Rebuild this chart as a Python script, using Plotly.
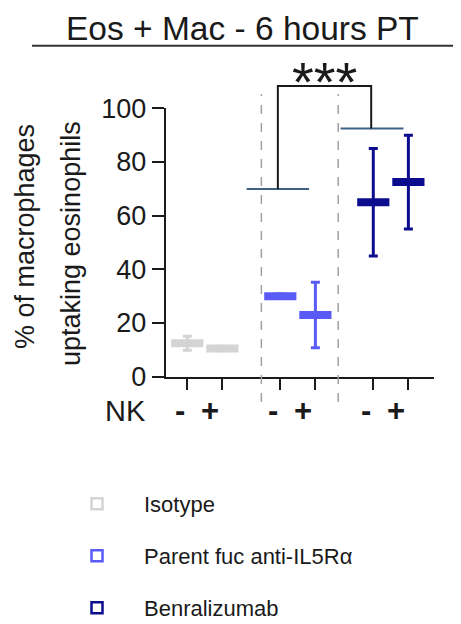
import plotly.graph_objects as go

# the page adds an 8px body margin; the figure is sized/positioned to compensate
OFF = 8
W, H = 461 - OFF, 624 - OFF

# ---- data ----
groups = ["Isotype", "Parent fuc anti-IL5Rα", "Benralizumab"]
colors = ["#d4d4d4", "#5a5af7", "#0c0c8e"]
nk_labels = ["-", "+"]
positions = [[0.0, 1.0], [2.65, 3.65], [5.3, 6.3]]
means = [[12.5, 10.5], [30.0, 23.0], [65.0, 72.5]]
errs = [[2.6, 0.8], [0.8, 12.2], [20.0, 17.5]]
yticks = [0, 20, 40, 60, 80, 100]
separators = [2.11, 4.30]
ref_lines = [(1.69, 3.47, 69.9), (4.37, 6.16, 92.5)]  # x0, x1, y
bracket = (2.58, 5.24)
sig_label = "***"

# ---- layout geometry (page pixels) ----
xl_px, xr_px = 165.7, 434.0
y0_px, y100_px = 376.7, 108.3
x_range = [-0.616, 7.03]
y_range = [0, 100]


def pxpaper(px):
    return (px - OFF) / W


def pypaper(py):
    return 1 - (py - OFF) / H


ydom = [pypaper(y0_px), pypaper(y100_px)]


def ypaper(v):
    return ydom[0] + (v - y_range[0]) / (y_range[1] - y_range[0]) * (ydom[1] - ydom[0])


fig = go.Figure()

for gi, g in enumerate(groups):
    fig.add_trace(go.Scatter(
        x=positions[gi], y=means[gi], mode="markers",
        marker=dict(symbol="line-ew", size=23, color=colors[gi],
                    line=dict(color=colors[gi], width=8)),
        error_y=dict(type="data", array=errs[gi], color=colors[gi],
                     thickness=3, width=4.5),
        showlegend=False, cliponaxis=False,
    ))
    leg = "legend" if gi == 0 else f"legend{gi + 1}"
    fig.add_trace(go.Scatter(
        x=[None], y=[None], mode="markers", name=g, legend=leg,
        marker=dict(symbol="square-open", size=11, color=colors[gi],
                    line=dict(color=colors[gi], width=2.5)),
    ))

shapes = []
for s in separators:
    shapes.append(dict(type="line", xref="x", yref="paper", x0=s, x1=s,
                       y0=pypaper(402), y1=pypaper(94),
                       line=dict(color="#a0a0a0", width=1.5, dash="dash")))
for x0, x1, yv in ref_lines:
    shapes.append(dict(type="line", xref="x", yref="y", x0=x0, x1=x1, y0=yv, y1=yv,
                       line=dict(color="#3b6185", width=2)))
top = pypaper(86)
shapes.append(dict(type="path", xref="x", yref="paper",
                   path=f"M {bracket[0]},{ypaper(ref_lines[0][2])} L {bracket[0]},{top} "
                        f"L {bracket[1]},{top} L {bracket[1]},{ypaper(ref_lines[1][2])}",
                   line=dict(color="#1a1a1a", width=2)))
# title underline
shapes.append(dict(type="line", xref="paper", yref="paper", x0=pxpaper(32), x1=1.0,
                   y0=pypaper(45.7), y1=pypaper(45.7), line=dict(color="#333333", width=2)))

annotations = []
annotations.append(dict(text="Eos + Mac - 6 hours PT", xref="paper", yref="paper",
                        x=pxpaper(242.9), y=1.0, xanchor="center", yanchor="top",
                        showarrow=False, font=dict(size=33.5, color="#1a1a1a")))
annotations.append(dict(text=sig_label, xref="x", yref="paper", x=sum(bracket) / 2,
                        y=pypaper(82), xanchor="center", yanchor="middle",
                        showarrow=False, font=dict(size=56, color="#1a1a1a")))
annotations.append(dict(text="% of macrophages", xref="paper", yref="paper",
                        x=pxpaper(25), y=pypaper(237), textangle=-90, xanchor="center",
                        yanchor="middle", showarrow=False,
                        font=dict(size=27, color="#1a1a1a")))
annotations.append(dict(text="uptaking eosinophils", xref="paper", yref="paper",
                        x=pxpaper(71), y=pypaper(243), textangle=-90, xanchor="center",
                        yanchor="middle", showarrow=False,
                        font=dict(size=27, color="#1a1a1a")))
annotations.append(dict(text="NK", xref="paper", yref="paper", x=pxpaper(125),
                        y=pypaper(411), xanchor="center", yanchor="middle", showarrow=False,
                        font=dict(size=29, color="#1a1a1a")))
shifts = [-7, -12]
for gi in range(len(groups)):
    for k, lab in enumerate(nk_labels):
        annotations.append(dict(text=f"<b>{lab}</b>", xref="x", yref="paper",
                                x=positions[gi][k], xshift=shifts[k], y=pypaper(410),
                                xanchor="center", yanchor="middle", showarrow=False,
                                font=dict(size=31, color="#1a1a1a")))

all_pos = [p for g in positions for p in g]
leg_common = dict(bgcolor="rgba(0,0,0,0)", borderwidth=0, itemwidth=84,
                  font=dict(size=22, color="#1a1a1a", family="Liberation Sans, Arial"),
                  xanchor="left", yanchor="middle", x=pxpaper(50))

fig.update_layout(
    width=W, height=H, margin=dict(l=0, r=0, t=0, b=0, autoexpand=False),
    paper_bgcolor="white", plot_bgcolor="white",
    font=dict(family="Liberation Sans, Arial", color="#1a1a1a"),
    xaxis=dict(domain=[pxpaper(xl_px), pxpaper(xr_px)], range=x_range, showgrid=False,
               zeroline=False, showline=True, linecolor="#1a1a1a", linewidth=2,
               tickmode="array", tickvals=all_pos, showticklabels=False, automargin=False,
               ticks="outside", ticklen=11, tickwidth=2, tickcolor="#1a1a1a"),
    yaxis=dict(domain=ydom, range=y_range, showgrid=False, zeroline=False,
               showline=True, linecolor="#1a1a1a", linewidth=2, automargin=False,
               tickmode="array", tickvals=yticks, ticks="outside", ticklen=12,
               tickwidth=2, tickcolor="#1a1a1a", tickfont=dict(size=27, color="#1a1a1a")),
    shapes=shapes, annotations=annotations,
    legend=dict(**leg_common, y=pypaper(504)),
    legend2=dict(**leg_common, y=pypaper(556)),
    legend3=dict(**leg_common, y=pypaper(608)),
)

fig.write_html("out.html")
